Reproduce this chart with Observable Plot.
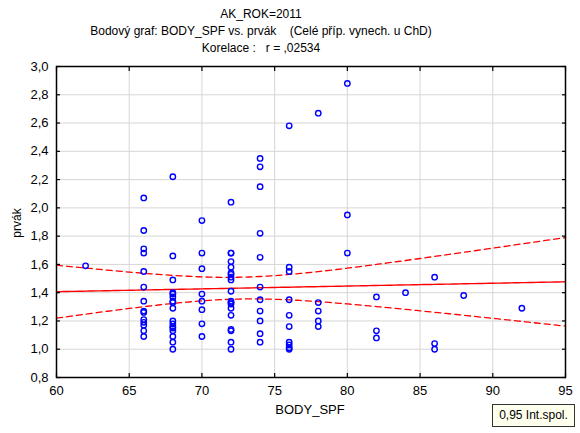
<!DOCTYPE html>
<html>
<head>
<meta charset="utf-8">
<script src="https://cdn.jsdelivr.net/npm/d3@7"></script>
<script src="https://cdn.jsdelivr.net/npm/@observablehq/plot@0.6"></script>
<style>
  html, body { margin: 0; padding: 0; background: #fff; }
  #chart svg { display: block; }
</style>
</head>
<body>
<div id="chart"></div>
<script>
// ---- data ----
const titleLines = ["AK_ROK=2011", "Bodový graf: BODY_SPF vs. prvák    (Celé příp. vynech. u ChD)", "Korelace :   r = ,02534"];
const xLabel = "BODY_SPF";
const yLabel = "prvák";
const legendText = "0,95 Int.spol.";
const xTicks = [60, 65, 70, 75, 80, 85, 90, 95];
const yTicks = [0.8, 1.0, 1.2, 1.4, 1.6, 1.8, 2.0, 2.2, 2.4, 2.6, 2.8, 3.0];

const bodySpf = [
  62,
  66,66,66,66,66,66,66,66,66,66,66,66,66,66,
  68,68,68,68,68,68,68,68,68,68,68,68,68,68,68,68,68,
  70,70,70,70,70,70,70,70,
  72,72,72,72,72,72,72,72,72,72,72,72,72,72,72,72,72,72,72,
  74,74,74,74,74,74,74,74,74,74,74,
  76,76,76,76,76,76,76,76,76,76,
  78,78,78,78,78,
  80,80,80,
  82,82,82,
  84,
  86,86,86,
  88,
  92
];
const prvak = [
  1.59,
  2.07,1.84,1.71,1.68,1.55,1.44,1.34,1.27,1.26,1.21,1.19,1.17,1.13,1.09,
  2.22,1.66,1.49,1.40,1.39,1.37,1.34,1.33,1.29,1.20,1.18,1.16,1.15,1.13,1.09,1.05,1.00,
  1.91,1.68,1.57,1.39,1.34,1.28,1.18,1.09,
  2.04,1.68,1.68,1.62,1.58,1.54,1.53,1.51,1.49,1.41,1.34,1.33,1.32,1.29,1.24,1.14,1.13,1.05,1.00,
  2.35,2.29,2.15,1.82,1.65,1.44,1.35,1.27,1.20,1.11,1.05,
  2.58,1.58,1.55,1.35,1.24,1.16,1.05,1.03,1.01,1.00,
  2.67,1.33,1.27,1.20,1.16,
  2.88,1.95,1.68,
  1.37,1.13,1.08,
  1.40,
  1.51,1.04,1.00,
  1.38,
  1.29
];

// ---- linear fit and 95% confidence band of the mean, from the points ----
const points = bodySpf.map((x, i) => ({x, y: prvak[i]}));
const n = points.length;
const mx = d3.mean(bodySpf), my = d3.mean(prvak);
const sxx = d3.sum(bodySpf, x => (x - mx) ** 2);
const sxy = d3.sum(points, p => (p.x - mx) * (p.y - my));
const slope = sxy / sxx, intercept = my - slope * mx;
const s = Math.sqrt(d3.sum(points, p => (p.y - intercept - slope * p.x) ** 2) / (n - 2));
const tCrit = 1.985; // t(0.975, n-2)
const grid = d3.range(60, 95.01, 0.25);
const band = grid.map(x => {
  const yh = intercept + slope * x;
  const h = tCrit * s * Math.sqrt(1 / n + (x - mx) ** 2 / sxx);
  return {x, fit: yh, lo: yh - h, hi: yh + h};
});

const fmt = d => d.toFixed(1).replace(".", ",");
const font = "'Liberation Sans', Arial, sans-serif";

const plot = Plot.plot({
  width: 580,
  height: 433,
  marginLeft: 56,
  marginRight: 15,
  marginTop: 66,
  marginBottom: 56,
  x: {domain: [60, 95]},
  y: {domain: [0.8, 3.0]},
  style: {fontFamily: font, fontSize: "13px", color: "#000", background: "#fff"},
  marks: [
    Plot.gridX(xTicks, {stroke: "#d6d6d6", strokeOpacity: 1, strokeWidth: 1}),
    Plot.gridY(yTicks, {stroke: "#d6d6d6", strokeOpacity: 1, strokeWidth: 1}),
    Plot.line(band, {x: "x", y: "hi", stroke: "#ff0000", strokeWidth: 1.3, strokeDasharray: "6,4"}),
    Plot.line(band, {x: "x", y: "lo", stroke: "#ff0000", strokeWidth: 1.3, strokeDasharray: "6,4"}),
    Plot.line(band, {x: "x", y: "fit", stroke: "#ff0000", strokeWidth: 1.4}),
    Plot.dot(points, {x: "x", y: "y", r: 2.7, stroke: "#0000ff", strokeWidth: 1.4, fill: "none"}),
    Plot.frame({stroke: "#000", strokeWidth: 1.5}),
    Plot.axisX(xTicks, {anchor: "bottom", tickSize: 0, tickPadding: 8, label: null, tickFormat: d => String(d)}),
    Plot.axisY(yTicks, {anchor: "left", tickSize: 0, tickPadding: 8, label: null, tickFormat: fmt}),
    Plot.axisX(xTicks, {anchor: "bottom", tickSize: -4, label: null, tickFormat: () => "", strokeWidth: 1.2}),
    Plot.axisX(xTicks, {anchor: "top", tickSize: -4, label: null, tickFormat: () => "", strokeWidth: 1.2}),
    Plot.axisY(yTicks, {anchor: "left", tickSize: -4, label: null, tickFormat: () => "", strokeWidth: 1.2}),
    Plot.axisY(yTicks, {anchor: "right", tickSize: -4, label: null, tickFormat: () => "", strokeWidth: 1.2})
  ]
});

document.getElementById("chart").appendChild(plot);

const svg = d3.select(plot);
const tg = svg.append("g").attr("font-family", font).attr("fill", "#000");
const titleY = [15, 32, 49];
titleLines.forEach((t, i) => {
  tg.append("text").attr("x", 261).attr("y", titleY[i])
    .attr("text-anchor", "middle").attr("dominant-baseline", "middle")
    .attr("font-size", "12px").attr("xml:space", "preserve").style("white-space", "pre").text(t);
});
tg.append("text").attr("x", 310).attr("y", 411)
  .attr("text-anchor", "middle").attr("dominant-baseline", "middle")
  .attr("font-size", "13px").text(xLabel);
tg.append("text").attr("transform", "translate(18,223) rotate(-90)")
  .attr("text-anchor", "middle").attr("dominant-baseline", "middle")
  .attr("font-size", "12px").text(yLabel);
const lg = svg.append("g").attr("font-family", font);
lg.append("rect").attr("x", 492.5).attr("y", 404.5).attr("width", 82).attr("height", 22)
  .attr("fill", "#ffffee").attr("stroke", "#333").attr("stroke-width", 1);
lg.append("text").attr("x", 533.5).attr("y", 416)
  .attr("text-anchor", "middle").attr("dominant-baseline", "middle")
  .attr("font-size", "12px").attr("fill", "#000").text(legendText);
</script>
</body>
</html>
